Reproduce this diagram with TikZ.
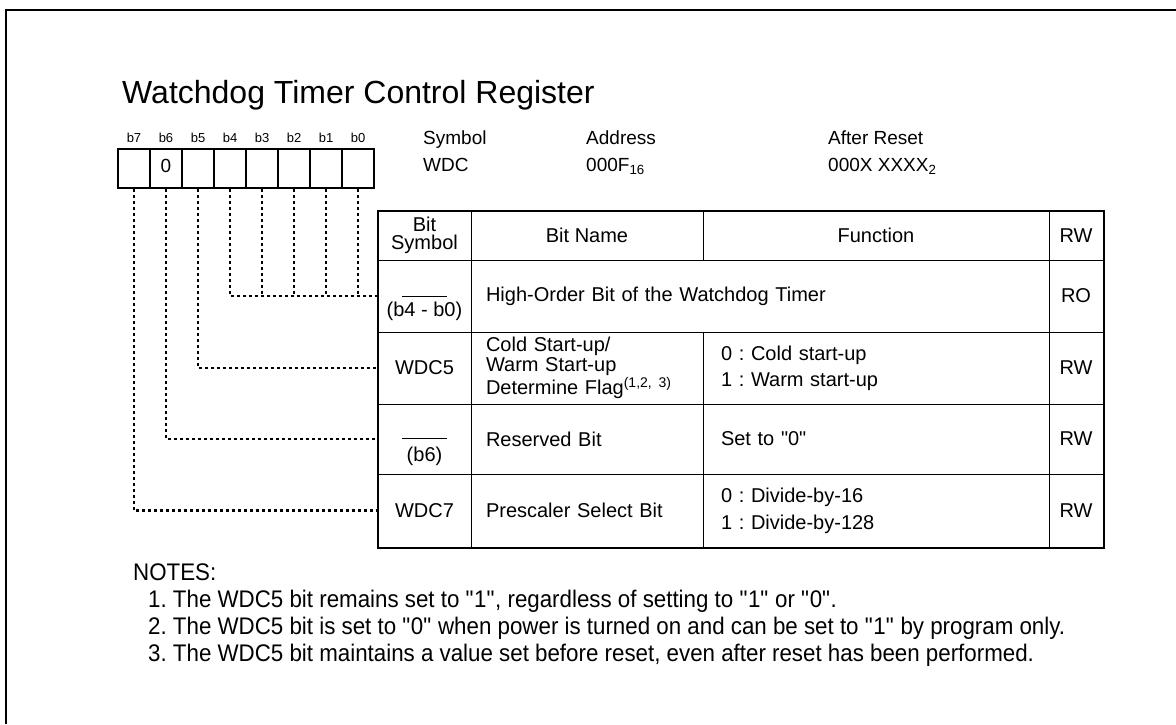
\documentclass[tikz,border=0pt]{standalone}
\usepackage{fontspec}
\setmainfont{Liberation Sans}
\newfontfamily\notefont[FakeStretch=0.93]{Liberation Sans}
\usetikzlibrary{positioning}
\frenchspacing
\newcommand{\tabfont}{\fontsize{20}{24}\selectfont}
\newcommand{\qt}[1]{\textquotedbl#1\textquotedbl}
\tikzset{
  txt/.style={inner sep=0pt, font=\tabfont, text height=0.72em, text depth=0pt},
  notetxt/.style={txt, anchor=west, font=\notefont\fontsize{24}{27}\selectfont},
  cell/.style={draw, line width=1pt, inner sep=0pt, font=\tabfont},
  bitcell/.style={draw, line width=1.3pt, inner sep=0pt, minimum width=32pt, minimum height=39pt},
  dotline/.style={line width=2.2pt, dash pattern=on 3pt off 3pt},
}
\begin{document}
\begin{tikzpicture}[x=1pt, y=-1pt]
      \useasboundingbox (0,0) rectangle (1176,724);
      % Frame
      \draw[line width=2pt] (6,724) -- (6,9.5) -- (1176,9.5);
      % Title
      \node[inner sep=0pt, anchor=base west, font=\fontsize{32}{38}\selectfont] (title) at (122,103) {Watchdog Timer Control Register};
      % Register bits b7 ... b0
      \foreach \i/\b in {0/7,1/6,2/5,3/4,4/3,5/2,6/1,7/0} {
        \node[bitcell] (c\b) at (134+32*\i,168.5) {};
        \node[txt, font=\fontsize{13}{15}\selectfont] (l\b) at (134+32*\i,139) {b\b};
      }
      \node[txt, font=\fontsize{19}{22}\selectfont] (z6) at (c6) {0};
      % Symbol, address, value after reset
      \node[txt, anchor=west, font=\fontsize{19}{22}\selectfont] (symb) at (423,140.5) {Symbol};
      \node[txt, anchor=west, font=\fontsize{19}{22}\selectfont] (wdc) at (423,168) {WDC};
      \node[txt, anchor=west, font=\fontsize{19}{22}\selectfont] (addr) at (586,140.5) {Address};
      \node[txt, anchor=west, font=\fontsize{19}{22}\selectfont] (addrv) at (586,168) {000F\textsubscript{16}};
      \node[txt, anchor=west, font=\fontsize{19}{22}\selectfont] (rst) at (828,140.5) {After Reset};
      \node[txt, anchor=west, font=\fontsize{19}{22}\selectfont] (rstv) at (828,168) {000X XXXX\textsubscript{2}};
      % Table header
      \node[cell, minimum width=93pt, minimum height=49pt, align=center, font=\fontsize{20}{18}\selectfont] (h1) at (424.5,235.5) {Bit\\Symbol};
      \node[cell, minimum width=232pt, minimum height=49pt] (h2) at (587,235.5) {Bit Name};
      \node[cell, minimum width=346pt, minimum height=49pt] (h3) at (876,235.5) {Function};
      \node[cell, minimum width=54pt, minimum height=49pt] (h4) at (1076,235.5) {RW};
      % b4 - b0
      \node[cell, minimum width=93pt, minimum height=72pt] (s1) at (424.5,296) {};
      \draw[line width=0.8pt] (402,296.5) -- (447,296.5);
      \node[txt] (d1) at (424.5,313) {(b4 - b0)};
      \node[cell, text width=548pt, inner xsep=15pt, minimum height=72pt, align=left] (n1) at (760,296) {High-Order Bit of the Watchdog Timer};
      \node[cell, minimum width=54pt, minimum height=72pt] (a1) at (1076,296) {RO};
      % WDC5
      \node[cell, minimum width=93pt, minimum height=72pt] (s2) at (424.5,368) {WDC5};
      \node[cell, text width=202pt, inner xsep=15pt, minimum height=72pt, align=left, font=\fontsize{20}{20}\selectfont] (n2) at (587,368) {Cold Start-up/\\Warm Start-up\\Determine Flag\textsuperscript{(1,2, 3)}};
      \node[cell, text width=310pt, inner xsep=18pt, minimum height=72pt, align=left, font=\fontsize{20}{26}\selectfont] (f2) at (876,368) {0 : Cold start-up\\1 : Warm start-up};
      \node[cell, minimum width=54pt, minimum height=72pt] (a2) at (1076,368) {RW};
      % b6
      \node[cell, minimum width=93pt, minimum height=70pt] (s3) at (424.5,439) {};
      \draw[line width=0.8pt] (402,438) -- (447,438);
      \node[txt] (d3) at (424.5,458) {(b6)};
      \node[cell, text width=202pt, inner xsep=15pt, minimum height=70pt, align=left] (n3) at (587,439) {Reserved Bit};
      \node[cell, text width=310pt, inner xsep=18pt, minimum height=70pt, align=left] (f3) at (876,439) {Set to \qt{0}};
      \node[cell, minimum width=54pt, minimum height=70pt] (a3) at (1076,439) {RW};
      % WDC7
      \node[cell, minimum width=93pt, minimum height=73pt] (s4) at (424.5,510.5) {WDC7};
      \node[cell, text width=202pt, inner xsep=15pt, minimum height=73pt, align=left, text depth=0pt] (n4) at (587,510.5) {Prescaler Select Bit};
      \node[cell, text width=310pt, inner xsep=18pt, minimum height=73pt, align=left, font=\fontsize{20}{27}\selectfont] (f4) at (876,510.5) {0 : Divide-by-16\\1 : Divide-by-128};
      \node[cell, minimum width=54pt, minimum height=73pt] (a4) at (1076,510.5) {RW};
      % Outer border of the table
      \draw[line width=2pt] (h1.north west) rectangle (a4.south east);
      % Dotted lines from the bits to the table
      \draw[dotline] (c4.south) |- (s1.west);
      \foreach \b in {3,2,1,0} \draw[dotline] (c\b.south) -- (c\b.south |- s1.west);
      \draw[dotline] (c5.south) |- (s2.west);
      \draw[dotline] (c6.south) |- (s3.west);
      \draw[dotline] (c7.south) |- (s4.west);
      % Notes
      \node[notetxt] (notes) at (133,577) {NOTES:};
      \node[notetxt] (note1) at (148,604) {1. The WDC5 bit remains set to \qt{1}, regardless of setting to \qt{1} or \qt{0}.};
      \node[notetxt] (note2) at (148,631) {2. The WDC5 bit is set to \qt{0} when power is turned on and can be set to \qt{1} by program only.};
      \node[notetxt] (note3) at (148,658) {3. The WDC5 bit maintains a value set before reset, even after reset has been performed.};
\end{tikzpicture}
\end{document}
